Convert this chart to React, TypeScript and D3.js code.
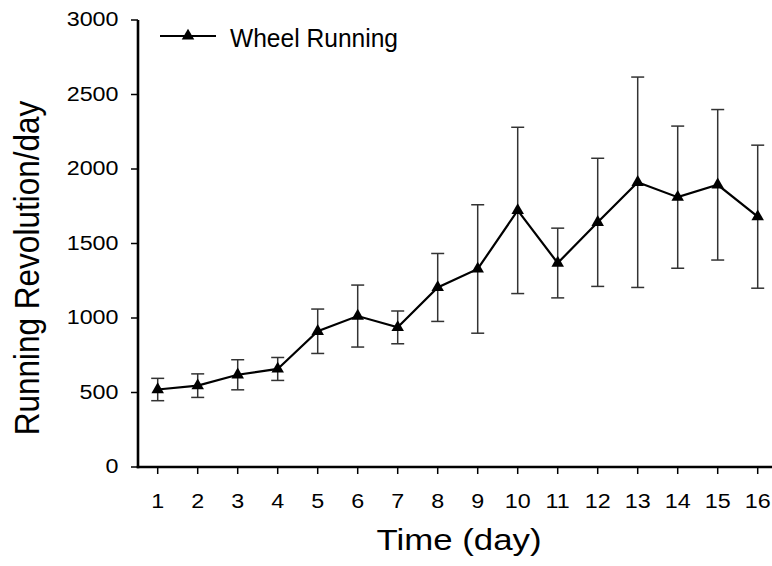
import React from "react";
import * as d3 from "d3";

const days = [1, 2, 3, 4, 5, 6, 7, 8, 9, 10, 11, 12, 13, 14, 15, 16];
const means = [520, 546, 619, 658, 911, 1013, 937, 1205, 1329, 1722, 1369, 1642, 1911, 1811, 1894, 1680];
const errors = [75, 79, 101, 77, 149, 208, 110, 228, 431, 558, 234, 430, 706, 477, 505, 480];
const yTicks = [0, 500, 1000, 1500, 2000, 2500, 3000];
const seriesName = "Wheel Running";
const xTitle = "Time (day)";
const yTitle = "Running Revolution/day";

const W = 772;
const H = 566;
const FONT = "'Liberation Sans', Arial, sans-serif";

export default function App() {
  const x = d3.scaleLinear().domain([1, 16]).range([157.7, 757.7]);
  const y = d3.scaleLinear().domain([0, 3000]).range([467, 20]);
  const axisX = 138;
  const line = d3
    .line<number>()
    .x((_, i) => x(days[i]))
    .y((d) => y(d));
  const tri = d3.symbol().type(d3.symbolTriangle).size(68)();
  const cap = 6.5;
  const sx = 1.11;

  return (
    <div style={{ position: "absolute", left: 0, top: 0 }}>
      <svg width={W} height={H} style={{ display: "block", background: "#fff" }} fontFamily={FONT}>
        {/* axes */}
        <line x1={axisX} x2={axisX} y1={y(3000)} y2={y(0) + 1.2} stroke="#000" strokeWidth={2.6} />
        <line x1={axisX - 1.3} x2={780} y1={y(0)} y2={y(0)} stroke="#000" strokeWidth={2.6} />
        {yTicks.map((t) => (
          <g key={"y" + t}>
            <line x1={axisX - 7} x2={axisX} y1={y(t)} y2={y(t)} stroke="#000" strokeWidth={1.5} />
            <text
              transform={`translate(${118.5},${y(t) + 6.2}) scale(${sx},1)`}
              textAnchor="end"
              fontSize={21}
              fill="#000"
            >
              {t}
            </text>
          </g>
        ))}
        {days.map((d) => (
          <g key={"x" + d}>
            <line x1={x(d)} x2={x(d)} y1={y(0)} y2={y(0) + 7} stroke="#000" strokeWidth={1.5} />
            <text
              transform={`translate(${x(d)},${507.5}) scale(${sx},1)`}
              textAnchor="middle"
              fontSize={21}
              fill="#000"
            >
              {d}
            </text>
          </g>
        ))}
        {/* axis titles */}
        <text
          transform={`translate(${39},${268}) scale(1.1,1) rotate(-90)`}
          textAnchor="middle"
          fontSize={31.5}
          fill="#000"
        >
          {yTitle}
        </text>
        <text
          transform={`translate(${459},${549.5}) scale(1.2,1)`}
          textAnchor="middle"
          fontSize={29}
          fill="#000"
        >
          {xTitle}
        </text>
        {/* error bars */}
        {means.map((m, i) => {
          const cx = x(days[i]);
          const top = y(m + errors[i]);
          const bot = y(m - errors[i]);
          return (
            <g key={"e" + i} stroke="#333" strokeWidth={1.5}>
              <line x1={cx} x2={cx} y1={top} y2={bot} />
              <line x1={cx - cap} x2={cx + cap} y1={top} y2={top} />
              <line x1={cx - cap} x2={cx + cap} y1={bot} y2={bot} />
            </g>
          );
        })}
        {/* line */}
        <path d={line(means) || ""} fill="none" stroke="#000" strokeWidth={2.2} />
        {means.map((m, i) => (
          <path key={"p" + i} d={tri || ""} transform={`translate(${x(days[i])},${y(m)})`} fill="#000" />
        ))}
        {/* legend */}
        <line x1={160} x2={216} y1={36} y2={36} stroke="#000" strokeWidth={2.2} />
        <path d={tri || ""} transform={`translate(188,36)`} fill="#000" />
        <text x={230} y={46.5} fontSize={25} textLength={168} lengthAdjust="spacingAndGlyphs" fill="#000">
          {seriesName}
        </text>
      </svg>
    </div>
  );
}
